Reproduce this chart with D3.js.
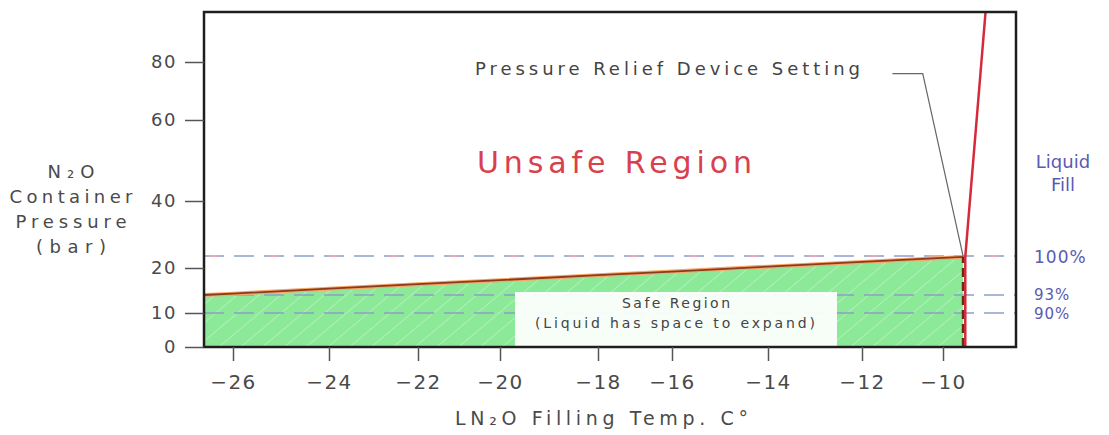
<!DOCTYPE html>
<html>
<head>
<meta charset="utf-8">
<script src="https://cdn.jsdelivr.net/npm/d3@7"></script>
<style>
  body { margin: 0; background: #fff; }
  text { font-family: "DejaVu Sans", sans-serif; }
</style>
</head>
<body>
<script>
// values
var xTicks = [-26, -24, -22, -20, -18, -16, -14, -12, -10];
var yTicks = [0, 10, 20, 40, 60, 80];

// liquid full boundary (filling temp C, pressure bar)
var boundaryTemp = [-26.6, -26, -24, -22, -20, -18, -16, -14, -12, -10, -9.5];
var boundaryPress = [14.0, 14.3, 15.4, 16.4, 17.3, 18.4, 19.2, 20.4, 21.8, 23.0, 23.3];

// relief device line
var reliefTemp = [-9.5, -9.5, -9.0];
var reliefPress = [0, 23.3, 97];

// liquid fill levels
var fillLabels = ["100%", "93%", "90%"];
var fillPress = [23.6, 14.0, 10.0];

// dimensions (plot frame edges)
var width = 1109;
var height = 435;
var plotL = 204, plotR = 1016, plotT = 12, plotB = 347;

// the original axes are not evenly spaced, so each tick gets its own stop
var x = d3.scaleLinear()
  .domain([-26.6].concat(xTicks, [-8.2]))
  .range([plotL, 233, 329, 418, 500, 598, 672, 768, 862, 943, plotR]);
var y = d3.scaleLinear()
  .domain(yTicks.concat([97]))
  .range([plotB, 313, 268, 201, 120, 62, plotT]);

var boundary = boundaryTemp.map(function (t, i) { return { t: t, p: boundaryPress[i] }; });
var relief = reliefTemp.map(function (t, i) { return { t: t, p: reliefPress[i] }; });

var svg = d3.select("body")
  .append("svg")
  .attr("width", width)
  .attr("height", height)
  .style("background", "#fff");

// hatch for the safe region
var defs = svg.append("defs");
var pat = defs.append("pattern")
  .attr("id", "hatch")
  .attr("patternUnits", "userSpaceOnUse")
  .attr("width", 14)
  .attr("height", 14)
  .attr("patternTransform", "rotate(-40)");
pat.append("rect").attr("width", 14).attr("height", 14).attr("fill", "#8be997");
pat.append("line")
  .attr("x1", 0).attr("y1", 0).attr("x2", 14).attr("y2", 0)
  .attr("stroke", "#b0f0b8").attr("stroke-width", 2);

defs.append("clipPath").attr("id", "plot")
  .append("rect")
  .attr("x", plotL).attr("y", plotT)
  .attr("width", plotR - plotL).attr("height", plotB - plotT);

var line = d3.line()
  .x(function (d) { return x(d.t); })
  .y(function (d) { return y(d.p); });

var plot = svg.append("g").attr("clip-path", "url(#plot)");

// safe region fill
plot.append("path")
  .datum(boundary)
  .attr("fill", "url(#hatch)")
  .attr("d", d3.area()
    .x(function (d) { return x(d.t); })
    .y0(y(0))
    .y1(function (d) { return y(d.p); }));

// fill level dashed lines
fillPress.forEach(function (p, i) {
  plot.append("line")
    .attr("x1", x(-26.6)).attr("x2", x(-8.2))
    .attr("y1", y(p)).attr("y2", y(p))
    .attr("stroke", i === 0 ? "#a9b6dc" : "#8e9ec8")
    .attr("stroke-opacity", i === 0 ? 1 : 0.75)
    .attr("stroke-width", 2)
    .attr("stroke-dasharray", "20,10");
  if (i === 0) {
    plot.append("line")
      .attr("x1", x(-26.6)).attr("x2", x(-8.2))
      .attr("y1", y(p)).attr("y2", y(p))
      .attr("stroke", "#e6a9b6")
      .attr("stroke-width", 2)
      .attr("stroke-dasharray", "8,52")
      .attr("stroke-dashoffset", -6);
  }
});

// safe region label box
plot.append("rect")
  .attr("x", 515).attr("y", 292)
  .attr("width", 322).attr("height", 55)
  .attr("fill", "#fff")
  .attr("fill-opacity", 0.93);

plot.append("text")
  .attr("x", 676).attr("y", 308)
  .attr("text-anchor", "middle")
  .attr("font-size", 14)
  .attr("fill", "#444")
  .attr("textLength", 108)
  .text("Safe Region");

plot.append("text")
  .attr("x", 675).attr("y", 328)
  .attr("text-anchor", "middle")
  .attr("font-size", 14)
  .attr("fill", "#444")
  .attr("textLength", 280)
  .text("(Liquid has space to expand)");

// boundary line
plot.append("path")
  .datum(boundary)
  .attr("fill", "none")
  .attr("stroke", "#f5a86a")
  .attr("stroke-width", 4)
  .attr("d", line);
plot.append("path")
  .datum(boundary)
  .attr("fill", "none")
  .attr("stroke", "#8a3a1e")
  .attr("stroke-width", 1.8)
  .attr("d", line);

// relief device lines
plot.append("line")
  .attr("x1", x(-9.5)).attr("x2", x(-9.5))
  .attr("y1", y(0)).attr("y2", y(23.3))
  .attr("stroke", "#6b2a1a")
  .attr("stroke-width", 3)
  .attr("stroke-dasharray", "9,5");
plot.append("path")
  .datum(relief)
  .attr("fill", "none")
  .attr("stroke", "#d42a3a")
  .attr("stroke-width", 2.5)
  .attr("transform", "translate(2,0)")
  .attr("d", line);

// leader from annotation to the set point
plot.append("path")
  .datum([{ t: -11.25, p: 76 }, { t: -10.5, p: 76 }, { t: -9.5, p: 23.3 }])
  .attr("fill", "none")
  .attr("stroke", "#666")
  .attr("stroke-width", 1.2)
  .attr("d", line);

// frame
svg.append("rect")
  .attr("x", plotL).attr("y", plotT)
  .attr("width", plotR - plotL).attr("height", plotB - plotT)
  .attr("fill", "none")
  .attr("stroke", "#1e1e1e")
  .attr("stroke-width", 2.5);

// axes
var xAxis = svg.append("g")
  .attr("transform", "translate(0," + plotB + ")")
  .call(d3.axisBottom(x).tickValues(xTicks).tickSize(14).tickPadding(14));
var yAxis = svg.append("g")
  .attr("transform", "translate(" + plotL + ",0)")
  .call(d3.axisLeft(y).tickValues(yTicks).tickSize(19).tickPadding(8));

[xAxis, yAxis].forEach(function (g) {
  g.select(".domain").remove();
  g.selectAll(".tick line").attr("stroke", "#555").attr("stroke-width", 1.5);
  g.selectAll(".tick text")
    .attr("fill", "#4a4a4a")
    .style("font-family", "DejaVu Sans, sans-serif")
    .attr("letter-spacing", 1.5);
});
xAxis.selectAll(".tick text").attr("font-size", 20);
yAxis.selectAll(".tick text").attr("font-size", 18);

// axis titles
svg.append("text")
  .attr("x", 455).attr("y", 425)
  .attr("font-size", 19)
  .attr("fill", "#4a4a4a")
  .attr("textLength", 293)
  .text("LN₂O Filling Temp. C°");

var yTitle = [["N₂O", 178, 47], ["Container", 203, 123], ["Pressure", 228, 111], ["(bar)", 253, 70]];
yTitle.forEach(function (d) {
  svg.append("text")
    .attr("x", 71).attr("y", d[1])
    .attr("text-anchor", "middle")
    .attr("font-size", 18)
    .attr("fill", "#4a4a4a")
    .attr("textLength", d[2])
    .text(d[0]);
});

// annotations
svg.append("text")
  .attr("x", 475).attr("y", 75)
  .attr("font-size", 18)
  .attr("fill", "#444")
  .attr("textLength", 385)
  .text("Pressure Relief Device Setting");

svg.append("text")
  .attr("x", 477).attr("y", 173)
  .attr("font-size", 30)
  .attr("fill", "#d8404e")
  .attr("textLength", 275)
  .text("Unsafe Region");

// right hand fill scale
svg.append("text")
  .attr("x", 1063).attr("y", 168)
  .attr("text-anchor", "middle")
  .attr("font-size", 18)
  .attr("fill", "#5a5ab4")
  .text("Liquid");
svg.append("text")
  .attr("x", 1063).attr("y", 191)
  .attr("text-anchor", "middle")
  .attr("font-size", 18)
  .attr("fill", "#5a5ab4")
  .text("Fill");

svg.selectAll(".fill-label")
  .data(fillLabels)
  .enter()
  .append("text")
  .attr("class", "fill-label")
  .attr("x", 1034)
  .attr("y", function (d, i) { return y(fillPress[i]) + [7, 5, 6][i]; })
  .attr("font-size", function (d, i) { return i === 0 ? 17 : 15; })
  .attr("fill", "#5a5ab4")
  .attr("letter-spacing", 1)
  .text(function (d) { return d; });
</script>
</body>
</html>
